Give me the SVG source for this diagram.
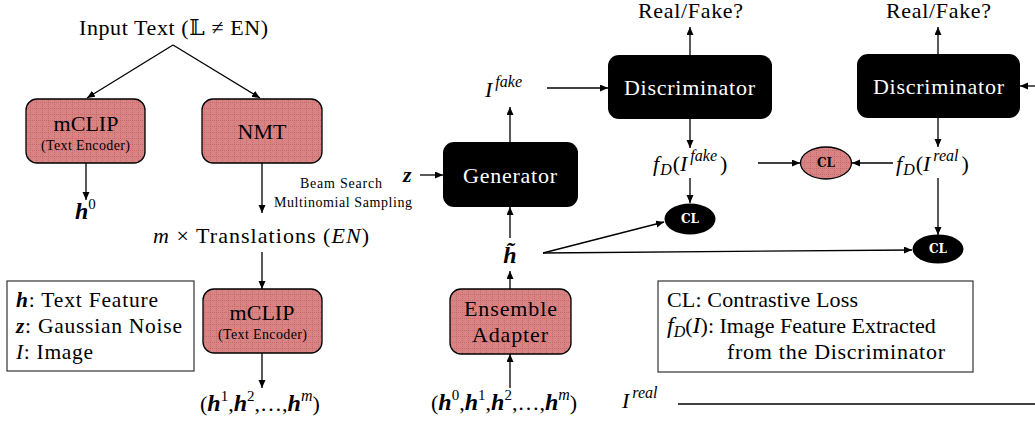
<svg xmlns="http://www.w3.org/2000/svg" width="1035" height="424" viewBox="0 0 1035 424">
<style>
text{font-family:"Liberation Serif","DejaVu Serif",serif;fill:#000}
.t22{font-size:22px}
.t20{font-size:21.5px}
.small{font-size:14px}
.w{fill:#fff}
.it{font-style:italic}
.bi{font-style:italic;font-weight:bold}
.sup{font-size:15px}
.msup{font-size:16px;font-style:italic}
.pink{fill:url(#grid);stroke:#000;stroke-width:1.3}
.blk{fill:#000}
.cl{font-size:12px;font-weight:bold;font-family:"DejaVu Serif","Liberation Serif",serif}
.conn line{stroke:#000;stroke-width:1.3;fill:none}
.arr{marker-end:url(#ah)}
.legend{fill:#fff;stroke:#333;stroke-width:1.2}
</style>
<defs>
<pattern id="grid" width="6" height="6" patternUnits="userSpaceOnUse">
<rect width="6" height="6" fill="#d98484"/>
<path d="M0,0.5H6M0.5,0V6" stroke="#c05e62" stroke-width="0.7" stroke-dasharray="1,1" fill="none"/>
</pattern>
<marker id="ah" markerUnits="userSpaceOnUse" markerWidth="9" markerHeight="8" refX="8" refY="3.5" orient="auto">
<path d="M0,0 L8,3.5 L0,7 z" fill="#000"/>
</marker>
</defs>
<rect width="1035" height="424" fill="#fff"/>

<g id="connectors" class="conn">
<line class="arr" x1="173" y1="45" x2="87" y2="98"/>
<line class="arr" x1="173" y1="45" x2="260" y2="98"/>
<line class="arr" x1="86" y1="163" x2="86" y2="200"/>
<line class="arr" x1="262" y1="163" x2="262" y2="213"/>
<line class="arr" x1="262" y1="252" x2="262" y2="289"/>
<line class="arr" x1="262" y1="353" x2="262" y2="388"/>
<line class="arr" x1="420" y1="175" x2="443" y2="175"/>
<line class="arr" x1="510" y1="142" x2="510" y2="107"/>
<line class="arr" x1="547" y1="88" x2="608" y2="88"/>
<line class="arr" x1="690" y1="55" x2="690" y2="27"/>
<line class="arr" x1="690" y1="119" x2="690" y2="148"/>
<line class="arr" x1="758" y1="163" x2="800" y2="163"/>
<line class="arr" x1="690" y1="178" x2="690" y2="203"/>
<line class="arr" x1="893" y1="163" x2="852" y2="163"/>
<line class="arr" x1="938" y1="54" x2="938" y2="27"/>
<line class="arr" x1="1035" y1="86" x2="1020" y2="86"/>
<line class="arr" x1="938" y1="118" x2="938" y2="147"/>
<line class="arr" x1="938" y1="178" x2="938" y2="235"/>
<line class="arr" x1="543" y1="253" x2="664" y2="222"/>
<line class="arr" x1="543" y1="253" x2="912" y2="250"/>
<line class="arr" x1="510" y1="289" x2="510" y2="271"/>
<line class="arr" x1="510" y1="238" x2="510" y2="207"/>
<line class="arr" x1="510" y1="388" x2="510" y2="354"/>
<line x1="678" y1="404" x2="1035" y2="404"/>
</g>

<g id="input-text"><text class="t22" x="79" y="35" textLength="189" lengthAdjust="spacing">Input Text (𝕃 ≠ EN)</text></g>

<g id="mclip1">
<rect class="pink" x="26" y="99" width="119" height="64" rx="11"/>
<text class="t22" x="86" y="131" text-anchor="middle">mCLIP</text>
<text class="small" x="41" y="150" textLength="89" lengthAdjust="spacing">(Text Encoder)</text>
</g>

<g id="nmt">
<rect class="pink" x="202" y="99" width="120" height="64" rx="11"/>
<text class="t22" x="262" y="139" text-anchor="middle">NMT</text>
</g>

<g id="h0"><text class="t22" x="75" y="219"><tspan class="bi" font-size="24">h</tspan><tspan class="sup" dy="-10">0</tspan></text></g>

<g id="beam-label">
<text class="small" x="300" y="188" textLength="82" lengthAdjust="spacing">Beam Search</text>
<text class="small" x="274" y="207" textLength="138" lengthAdjust="spacing">Multinomial Sampling</text>
</g>

<g id="translations"><text class="t22" x="153" y="243" textLength="216" lengthAdjust="spacing"><tspan class="it">m</tspan> × Translations (<tspan class="it">EN</tspan>)</text></g>

<g id="mclip2">
<rect class="pink" x="203" y="289" width="119" height="64" rx="11"/>
<text class="t22" x="262" y="320" text-anchor="middle">mCLIP</text>
<text class="small" x="218" y="339" textLength="89" lengthAdjust="spacing">(Text Encoder)</text>
</g>

<g id="h1m"><text class="t22" x="200" y="411" font-size="23">(<tspan class="bi" font-size="24">h</tspan><tspan class="sup" dy="-10">1</tspan><tspan dy="10">,</tspan><tspan class="bi" font-size="24">h</tspan><tspan class="sup" dy="-10">2</tspan><tspan dy="10">,…,</tspan><tspan class="bi" font-size="24">h</tspan><tspan class="msup" dy="-10">m</tspan><tspan dy="10">)</tspan></text></g>

<g id="legend-left">
<rect class="legend" x="7" y="281" width="187" height="90"/>
<text class="t20" x="16" y="307" textLength="142" lengthAdjust="spacing"><tspan class="bi">h</tspan>: Text Feature</text>
<text class="t20" x="16" y="333" textLength="166" lengthAdjust="spacing"><tspan class="bi">z</tspan>: Gaussian Noise</text>
<text class="t20" x="16" y="359" textLength="77" lengthAdjust="spacing"><tspan class="it">I</tspan>: Image</text>
</g>

<g id="z"><text class="t22 bi" x="403" y="182" font-size="24">z</text></g>

<g id="generator">
<rect class="blk" x="443" y="142" width="135" height="65" rx="11"/>
<text class="t22 w" x="463" y="183" textLength="94" lengthAdjust="spacing">Generator</text>
</g>

<g id="ifake"><text class="t22" x="485" y="97" font-size="24"><tspan class="it">I</tspan><tspan class="msup" dy="-10" dx="3" font-size="17">fake</tspan></text></g>

<g id="disc1">
<rect class="blk" x="608" y="55" width="164" height="64" rx="11"/>
<text class="t22 w" x="624" y="95" textLength="131" lengthAdjust="spacing">Discriminator</text>
</g>
<g id="rf1"><text class="t22" x="638" y="18" textLength="105" lengthAdjust="spacing">Real/Fake?</text></g>

<g id="fdfake"><text class="t22" x="653" y="171" font-size="24"><tspan class="it">f</tspan><tspan class="msup" dy="4" dx="1">D</tspan><tspan dy="-4" dx="1">(</tspan><tspan class="it">I</tspan><tspan class="msup" dy="-10" dx="3" font-size="17">fake</tspan><tspan dy="10" dx="3">)</tspan></text></g>

<g id="cl-pink">
<ellipse cx="826" cy="163" rx="25.5" ry="16" fill="url(#grid)" stroke="#000" stroke-width="1.3"/>
<text class="cl" x="826" y="167" text-anchor="middle">CL</text>
</g>

<g id="disc2">
<rect class="blk" x="857" y="54" width="163" height="64" rx="11"/>
<text class="t22 w" x="873" y="94" textLength="131" lengthAdjust="spacing">Discriminator</text>
</g>
<g id="rf2"><text class="t22" x="886" y="18" textLength="105" lengthAdjust="spacing">Real/Fake?</text></g>

<g id="fdreal"><text class="t22" x="896" y="171" font-size="24"><tspan class="it">f</tspan><tspan class="msup" dy="4" dx="1">D</tspan><tspan dy="-4" dx="1">(</tspan><tspan class="it">I</tspan><tspan class="msup" dy="-10" dx="3" font-size="17">real</tspan><tspan dy="10" dx="3">)</tspan></text></g>

<g id="cl1">
<ellipse cx="690" cy="219" rx="25.5" ry="15.5" fill="#000"/>
<text class="cl w" x="690" y="223" text-anchor="middle">CL</text>
</g>

<g id="cl2">
<ellipse cx="938" cy="249" rx="25.5" ry="14.5" fill="#000"/>
<text class="cl w" x="938" y="253" text-anchor="middle">CL</text>
</g>

<g id="htilde"><text class="bi" x="510" y="263" font-size="24" text-anchor="middle">h̃</text></g>

<g id="ensemble">
<rect class="pink" x="450" y="289" width="121" height="65" rx="11"/>
<text class="t22" x="464" y="316" textLength="93" lengthAdjust="spacing">Ensemble</text>
<text class="t22" x="472" y="342" textLength="76" lengthAdjust="spacing">Adapter</text>
</g>

<g id="h0m"><text class="t22" x="431" y="410" font-size="23">(<tspan class="bi" font-size="24">h</tspan><tspan class="sup" dy="-10">0</tspan><tspan dy="10">,</tspan><tspan class="bi" font-size="24">h</tspan><tspan class="sup" dy="-10">1</tspan><tspan dy="10">,</tspan><tspan class="bi" font-size="24">h</tspan><tspan class="sup" dy="-10">2</tspan><tspan dy="10">,…,</tspan><tspan class="bi" font-size="24">h</tspan><tspan class="msup" dy="-10">m</tspan><tspan dy="10">)</tspan></text></g>

<g id="ireal"><text class="t22" x="622" y="408" font-size="24"><tspan class="it">I</tspan><tspan class="msup" dy="-10" dx="3" font-size="17">real</tspan></text></g>

<g id="legend-right">
<rect class="legend" x="658" y="281" width="315" height="91"/>
<text class="t22" x="667" y="307" textLength="191" lengthAdjust="spacing">CL: Contrastive Loss</text>
<text class="t22" x="667" y="333"><tspan class="it" font-size="24">f</tspan><tspan class="msup" dy="4">D</tspan><tspan dy="-4">(</tspan><tspan class="it" font-size="24">I</tspan>): Image Feature Extracted</text>
<text class="t22" x="727" y="359" textLength="218" lengthAdjust="spacing">from the Discriminator</text>
</g>
</svg>
